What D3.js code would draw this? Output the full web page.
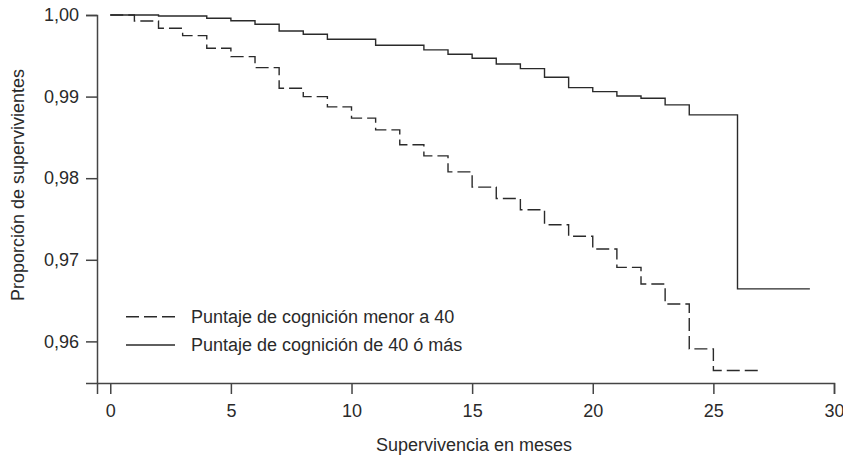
<!DOCTYPE html>
<html>
<head>
<meta charset="utf-8">
<script src="https://cdn.jsdelivr.net/npm/d3@7"></script>
<style>
  body { margin: 0; background: #fff; }
  svg { display: block; font-family: "Liberation Sans", Arial, Helvetica, sans-serif; }
</style>
</head>
<body>
<div id="chart"></div>
<script>
// Kaplan-Meier survival, months vs proportion surviving
const timesLow = [0, 1, 2, 3, 4, 5, 6, 7, 8, 9, 10, 11, 12, 13, 14, 15, 16, 17, 18, 19, 20, 21, 22, 23, 24, 25, 27];
const survLow = [1.0, 0.99927, 0.99837, 0.99747, 0.99592, 0.9949, 0.99355, 0.99103, 0.99, 0.98874, 0.98736,
  0.98592, 0.98409, 0.98274, 0.98078, 0.97891, 0.97752, 0.97613, 0.9743, 0.97289, 0.97132, 0.96907,
  0.96704, 0.96459, 0.95908, 0.95643, 0.95643];

const timesHigh = [0, 2, 4, 5, 6, 7, 8, 9, 11, 13, 14, 15, 16, 17, 18, 19, 20, 21, 22, 23, 24, 26, 29];
const survHigh = [1.0, 0.99988, 0.9996, 0.9993, 0.99886, 0.99804, 0.99764, 0.99703, 0.99629, 0.99572,
  0.99519, 0.9947, 0.994, 0.99343, 0.99237, 0.9911, 0.99061, 0.99008, 0.9898, 0.98898, 0.98776,
  0.96643, 0.96643];

const xTicks = [0, 5, 10, 15, 20, 25, 30];
const yTicks = [0.96, 0.97, 0.98, 0.99, 1.0];

const seriesLabels = ["Puntaje de cognición menor a 40", "Puntaje de cognición de 40 ó más"];
const xTitle = "Supervivencia en meses";
const yTitle = "Proporción de supervivientes";

const width = 843, height = 457;
const ink = "#2a2a2a";

const svg = d3.select("#chart").append("svg")
  .attr("width", width)
  .attr("height", height);

const x = d3.scaleLinear().domain([-0.55, 30]).range([97, 834]);
const y = d3.scaleLinear().domain([0.9549, 1.0]).range([383, 15]);

const fmt = d => d3.format(".2f")(d).replace(".", ",");

// axes
const xAxis = svg.append("g")
  .attr("transform", `translate(0,${y.range()[0]})`)
  .call(d3.axisBottom(x).tickValues(xTicks).tickSizeOuter(0).tickSize(11).tickPadding(10));

const yAxis = svg.append("g")
  .attr("transform", `translate(${x.range()[0]},0)`)
  .call(d3.axisLeft(y).tickValues(yTicks).tickFormat(fmt).tickSizeOuter(0).tickSize(11).tickPadding(7));

[xAxis, yAxis].forEach(g => {
  g.select(".domain").attr("stroke", "#444").attr("stroke-width", 1.5);
  g.selectAll(".tick line").attr("stroke", "#444").attr("stroke-width", 1.5);
  g.selectAll(".tick text")
    .attr("fill", ink)
    .style("font-size", "18px")
    .style("font-family", "'Liberation Sans', Arial, Helvetica, sans-serif");
});

// axis titles
svg.append("text")
  .attr("x", 474)
  .attr("y", 451)
  .attr("text-anchor", "middle")
  .attr("fill", ink)
  .style("font-size", "18px")
  .text(xTitle);

svg.append("text")
  .attr("transform", `translate(24,185) rotate(-90)`)
  .attr("text-anchor", "middle")
  .attr("fill", ink)
  .style("font-size", "18px")
  .text(yTitle);

// survival step curves
const line = d3.line()
  .x(d => x(d[0]))
  .y(d => y(d[1]))
  .curve(d3.curveStepAfter);

const series = [
  { pts: d3.zip(timesLow, survLow), dash: "13,5" },
  { pts: d3.zip(timesHigh, survHigh), dash: null }
];

svg.selectAll(".km")
  .data(series)
  .enter()
  .append("path")
  .attr("class", "km")
  .attr("d", d => line(d.pts))
  .attr("fill", "none")
  .attr("stroke", ink)
  .attr("stroke-width", 1.4)
  .attr("stroke-dasharray", d => d.dash);

// legend
const legend = svg.append("g");
const legendRows = [316.7, 345];

series.forEach((s, i) => {
  legend.append("line")
    .attr("x1", 126).attr("x2", 175)
    .attr("y1", legendRows[i]).attr("y2", legendRows[i])
    .attr("stroke", ink)
    .attr("stroke-width", 1.4)
    .attr("stroke-dasharray", s.dash);

  legend.append("text")
    .attr("x", 191)
    .attr("y", legendRows[i])
    .attr("dy", "0.36em")
    .attr("fill", ink)
    .style("font-size", "18px")
    .text(seriesLabels[i]);
});
</script>
</body>
</html>
